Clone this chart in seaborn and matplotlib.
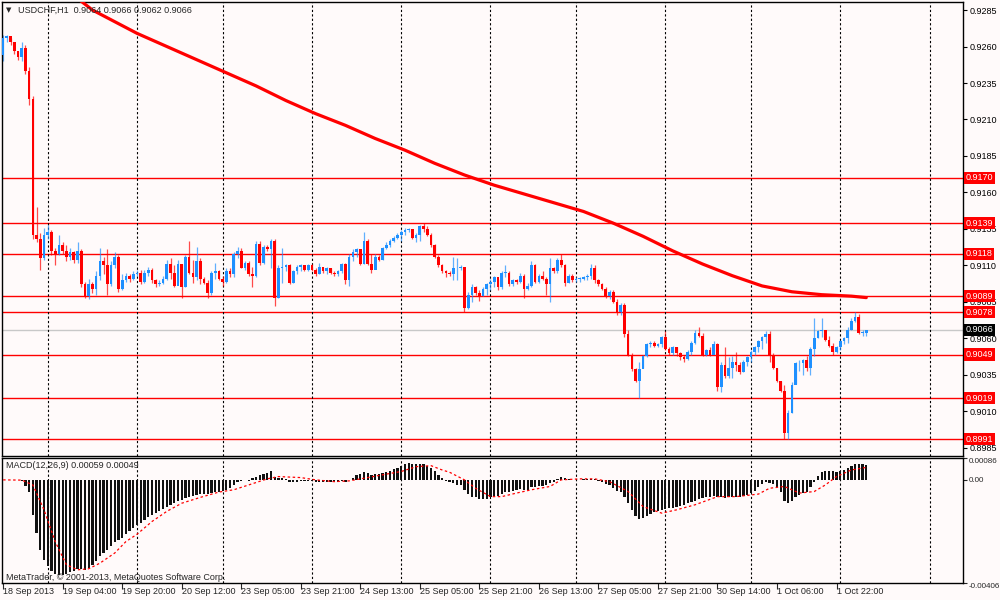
import pandas as pd
import matplotlib
matplotlib.use("Agg")
import matplotlib.pyplot as plt
import seaborn as sns

# USDCHF H1 candles (open of each bar = previous close)
first_open = 0.9254
close = [
    0.9266, 0.9267, 0.9263, 0.9257, 0.9253, 0.9259, 0.9243, 0.9224, 0.9131, 0.9128,
    0.9115, 0.9131, 0.9133, 0.9120, 0.9118, 0.9124, 0.9120, 0.9116, 0.9119, 0.9114,
    0.9120, 0.9097, 0.9089, 0.9097, 0.9094, 0.9103, 0.9113, 0.9110, 0.9097, 0.9110,
    0.9116, 0.9094, 0.9100, 0.9103, 0.9101, 0.9104, 0.9105, 0.9099, 0.9105, 0.9107,
    0.9100, 0.9097, 0.9098, 0.9101, 0.9111, 0.9105, 0.9096, 0.9111, 0.9095, 0.9116,
    0.9105, 0.9102, 0.9113, 0.9101, 0.9098, 0.9091, 0.9105, 0.9106, 0.9101, 0.9099,
    0.9106, 0.9104, 0.9118, 0.9120, 0.9108, 0.9112, 0.9104, 0.9103, 0.9125, 0.9112,
    0.9123, 0.9121, 0.9127, 0.9088, 0.9108, 0.9109, 0.9110, 0.9098, 0.9106, 0.9109,
    0.9110, 0.9107, 0.9110, 0.9107, 0.9104, 0.9109, 0.9106, 0.9108, 0.9105, 0.9104,
    0.9106, 0.9111, 0.9100, 0.9116, 0.9119, 0.9121, 0.9111, 0.9127, 0.9111, 0.9107,
    0.9116, 0.9114, 0.9122, 0.9124, 0.9127, 0.9129, 0.9131, 0.9133, 0.9134, 0.9135,
    0.9129, 0.9131, 0.9137, 0.9135, 0.9131, 0.9124, 0.9116, 0.9110, 0.9106, 0.9105,
    0.9104, 0.9108, 0.9108, 0.9109, 0.9081, 0.9090, 0.9095, 0.9091, 0.9089, 0.9094,
    0.9097, 0.9099, 0.9102, 0.9095, 0.9105, 0.9105, 0.9097, 0.9100, 0.9099, 0.9103,
    0.9094, 0.9096, 0.9110, 0.9099, 0.9103, 0.9101, 0.9097, 0.9108, 0.9106, 0.9114,
    0.9110, 0.9098, 0.9103, 0.9100, 0.9101, 0.9101, 0.9102, 0.9103, 0.9108, 0.9100,
    0.9097, 0.9094, 0.9089, 0.9092, 0.9085, 0.9078, 0.9083, 0.9063, 0.9049, 0.9039,
    0.9031, 0.9039, 0.9048, 0.9056, 0.9057, 0.9055, 0.9056, 0.9061, 0.9053, 0.9050,
    0.9054, 0.9050, 0.9047, 0.9046, 0.9051, 0.9057, 0.9064, 0.9062, 0.9049, 0.9052,
    0.9049, 0.9056, 0.9027, 0.9042, 0.9034, 0.9040, 0.9044, 0.9042, 0.9037, 0.9044,
    0.9047, 0.9051, 0.9054, 0.9058, 0.9061, 0.9063, 0.9048, 0.9040, 0.9031, 0.9024,
    0.8995, 0.9009, 0.9028, 0.9043, 0.9043, 0.9045, 0.9040, 0.9053, 0.9060, 0.9065,
    0.9066, 0.9059, 0.9055, 0.9051, 0.9054, 0.9058, 0.9060, 0.9066, 0.9072, 0.9075,
    0.9064, 0.9064, 0.9066,
]
high = [
    0.9268, 0.9268, 0.9266, 0.9263, 0.9257, 0.9263, 0.9261, 0.9246, 0.9226, 0.9150,
    0.9132, 0.9136, 0.9138, 0.9134, 0.9122, 0.9131, 0.9126, 0.9124, 0.9122, 0.9120,
    0.9126, 0.9121, 0.9099, 0.9101, 0.9099, 0.9106, 0.9122, 0.9116, 0.9121, 0.9113,
    0.9119, 0.9117, 0.9104, 0.9105, 0.9104, 0.9106, 0.9107, 0.9107, 0.9107, 0.9109,
    0.9108, 0.9101, 0.9100, 0.9103, 0.9114, 0.9115, 0.9110, 0.9114, 0.9111, 0.9117,
    0.9127, 0.9114, 0.9123, 0.9115, 0.9102, 0.9100, 0.9106, 0.9112, 0.9107, 0.9103,
    0.9108, 0.9108, 0.9119, 0.9123, 0.9122, 0.9113, 0.9113, 0.9109, 0.9127, 0.9127,
    0.9124, 0.9124, 0.9128, 0.9128, 0.9110, 0.9122, 0.9111, 0.9111, 0.9107, 0.9110,
    0.9111, 0.9110, 0.9111, 0.9111, 0.9108, 0.9112, 0.9109, 0.9109, 0.9108, 0.9106,
    0.9107, 0.9112, 0.9112, 0.9118, 0.9121, 0.9122, 0.9121, 0.9133, 0.9128, 0.9118,
    0.9118, 0.9117, 0.9123, 0.9126, 0.9128, 0.9130, 0.9132, 0.9134, 0.9136, 0.9136,
    0.9135, 0.9132, 0.9138, 0.9139, 0.9137, 0.9132, 0.9125, 0.9117, 0.9111, 0.9107,
    0.9106, 0.9116, 0.9115, 0.9110, 0.9109, 0.9092, 0.9097, 0.9096, 0.9093, 0.9095,
    0.9098, 0.9101, 0.9103, 0.9101, 0.9106, 0.9110, 0.9106, 0.9101, 0.9101, 0.9105,
    0.9104, 0.9098, 0.9113, 0.9111, 0.9104, 0.9106, 0.9102, 0.9115, 0.9109, 0.9115,
    0.9118, 0.9111, 0.9104, 0.9104, 0.9102, 0.9102, 0.9103, 0.9104, 0.9111, 0.9110,
    0.9101, 0.9098, 0.9095, 0.9093, 0.9093, 0.9087, 0.9084, 0.9084, 0.9066, 0.9050,
    0.9040, 0.9044, 0.9049, 0.9057, 0.9058, 0.9058, 0.9057, 0.9062, 0.9065, 0.9054,
    0.9055, 0.9054, 0.9051, 0.9049, 0.9052, 0.9058, 0.9066, 0.9068, 0.9064, 0.9053,
    0.9054, 0.9058, 0.9057, 0.9044, 0.9054, 0.9047, 0.9048, 0.9051, 0.9044, 0.9045,
    0.9048, 0.9052, 0.9055, 0.9059, 0.9062, 0.9065, 0.9065, 0.9050, 0.9040, 0.9031,
    0.9028, 0.9011, 0.9030, 0.9044, 0.9045, 0.9046, 0.9048, 0.9054, 0.9074, 0.9066,
    0.9074, 0.9066, 0.9062, 0.9057, 0.9055, 0.9059, 0.9061, 0.9068, 0.9074, 0.9078,
    0.9077, 0.9066, 0.9066,
]
low = [
    0.9250, 0.9263, 0.9261, 0.9255, 0.9251, 0.9250, 0.9241, 0.9220, 0.9128, 0.9126,
    0.9107, 0.9114, 0.9128, 0.9117, 0.9110, 0.9117, 0.9118, 0.9113, 0.9114, 0.9112,
    0.9112, 0.9095, 0.9088, 0.9087, 0.9091, 0.9090, 0.9100, 0.9104, 0.9090, 0.9096,
    0.9108, 0.9092, 0.9093, 0.9099, 0.9099, 0.9100, 0.9103, 0.9097, 0.9098, 0.9103,
    0.9098, 0.9095, 0.9096, 0.9097, 0.9100, 0.9101, 0.9095, 0.9099, 0.9088, 0.9095,
    0.9104, 0.9098, 0.9100, 0.9097, 0.9097, 0.9088, 0.9090, 0.9101, 0.9100, 0.9096,
    0.9098, 0.9102, 0.9102, 0.9115, 0.9108, 0.9107, 0.9103, 0.9095, 0.9102, 0.9110,
    0.9111, 0.9120, 0.9108, 0.9082, 0.9088, 0.9098, 0.9106, 0.9097, 0.9098, 0.9104,
    0.9106, 0.9106, 0.9106, 0.9106, 0.9103, 0.9104, 0.9105, 0.9104, 0.9104, 0.9103,
    0.9103, 0.9105, 0.9097, 0.9096, 0.9113, 0.9116, 0.9110, 0.9111, 0.9110, 0.9105,
    0.9108, 0.9113, 0.9114, 0.9121, 0.9123, 0.9126, 0.9128, 0.9127, 0.9131, 0.9133,
    0.9128, 0.9126, 0.9127, 0.9133, 0.9130, 0.9123, 0.9115, 0.9109, 0.9105, 0.9102,
    0.9103, 0.9100, 0.9100, 0.9107, 0.9078, 0.9080, 0.9085, 0.9090, 0.9086, 0.9089,
    0.9090, 0.9093, 0.9095, 0.9093, 0.9094, 0.9102, 0.9096, 0.9096, 0.9097, 0.9098,
    0.9088, 0.9093, 0.9095, 0.9098, 0.9098, 0.9100, 0.9090, 0.9085, 0.9105, 0.9105,
    0.9109, 0.9096, 0.9098, 0.9099, 0.9099, 0.9099, 0.9100, 0.9100, 0.9101, 0.9098,
    0.9096, 0.9093, 0.9088, 0.9087, 0.9084, 0.9076, 0.9076, 0.9061, 0.9048, 0.9038,
    0.9030, 0.9019, 0.9040, 0.9047, 0.9054, 0.9054, 0.9054, 0.9054, 0.9052, 0.9049,
    0.9049, 0.9048, 0.9045, 0.9044, 0.9045, 0.9049, 0.9056, 0.9061, 0.9048, 0.9048,
    0.9048, 0.9050, 0.9024, 0.9023, 0.9033, 0.9033, 0.9033, 0.9038, 0.9036, 0.9037,
    0.9041, 0.9044, 0.9049, 0.9051, 0.9053, 0.9057, 0.9044, 0.9039, 0.9030, 0.9023,
    0.8991, 0.8991, 0.9009, 0.9029, 0.9038, 0.9035, 0.9038, 0.9035, 0.9048, 0.9060,
    0.9061, 0.9058, 0.9054, 0.9049, 0.9050, 0.9052, 0.9056, 0.9057, 0.9066, 0.9071,
    0.9063, 0.9062, 0.9062,
]

# moving average (thick red line), sampled along the curve
ma_bar = [20, 24, 30, 36, 44, 52, 60, 68, 76, 84, 92, 100, 108, 116, 124,
          132, 140, 148, 156, 164, 172, 180, 188, 196, 204, 212, 220, 228, 232]
ma_value = [0.9293, 0.9285, 0.9277, 0.9269, 0.9260, 0.9251, 0.9242, 0.9233,
            0.9223, 0.9214, 0.9206, 0.9197, 0.9189, 0.9180, 0.9172, 0.9165,
            0.9159, 0.9153, 0.9147, 0.9139, 0.9130, 0.9120, 0.9111, 0.9103,
            0.9096, 0.9092, 0.9090, 0.9089, 0.9088]

# MACD(12,26,9) main values (histogram)
macd = [
    0.0, -0.00001, -0.00001, -0.00001, -0.00002, -0.00003, -0.00026, -0.00046, -0.00138, -0.00210,
    -0.00275, -0.00314, -0.00341, -0.00360, -0.00371, -0.00373, -0.00373, -0.00371, -0.00363, -0.00358,
    -0.00350, -0.00350, -0.00354, -0.00347, -0.00334, -0.00321, -0.00301, -0.00288, -0.00275, -0.00262,
    -0.00246, -0.00236, -0.00227, -0.00214, -0.00200, -0.00190, -0.00179, -0.00169, -0.00159, -0.00148,
    -0.00138, -0.00130, -0.00122, -0.00114, -0.00106, -0.00098, -0.00092, -0.00083, -0.00079, -0.00072,
    -0.00067, -0.00062, -0.00059, -0.00056, -0.00054, -0.00054, -0.00051, -0.00048, -0.00046, -0.00043,
    -0.00039, -0.00033, -0.00020, -0.00007, -0.00003, -0.00001, -0.00003, 0.00007, 0.00013, 0.00020,
    0.00022, 0.00026, 0.00035, 0.00013, 0.00009, 0.00007, 0.00003, -0.00007, -0.00007, -0.00007,
    -0.00005, -0.00005, -0.00004, -0.00004, -0.00007, -0.00008, -0.00008, -0.00007, -0.00008, -0.00008,
    -0.00007, -0.00004, -0.00007, 0.0, 0.00009, 0.00020, 0.00022, 0.00030, 0.00026, 0.00020,
    0.00022, 0.00022, 0.00026, 0.00030, 0.00035, 0.00042, 0.00048, 0.00056, 0.00062, 0.00066,
    0.00063, 0.00063, 0.00063, 0.00062, 0.00056, 0.00048, 0.00035, 0.00020, 0.00007, -0.00003,
    -0.00007, -0.00013, -0.00020, -0.00022, -0.00039, -0.00056, -0.00066, -0.00069, -0.00075, -0.00076,
    -0.00075, -0.00069, -0.00066, -0.00062, -0.00056, -0.00048, -0.00046, -0.00043, -0.00041, -0.00037,
    -0.00039, -0.00039, -0.00030, -0.00030, -0.00026, -0.00024, -0.00022, -0.00014, -0.00007, 0.00004,
    0.00013, 0.00007, 0.00004, 0.00001, 0.00001, 0.00001, 0.00003, 0.00003, 0.00004, 0.00003,
    -0.00003, -0.00007, -0.00017, -0.00022, -0.00033, -0.00043, -0.00046, -0.00066, -0.00092, -0.00118,
    -0.00144, -0.00155, -0.00151, -0.00144, -0.00135, -0.00127, -0.00122, -0.00118, -0.00115, -0.00111,
    -0.00109, -0.00105, -0.00101, -0.00098, -0.00093, -0.00088, -0.00083, -0.00075, -0.00072, -0.00069,
    -0.00067, -0.00062, -0.00067, -0.00069, -0.00072, -0.00069, -0.00067, -0.00066, -0.00066, -0.00063,
    -0.00059, -0.00052, -0.00043, -0.00030, -0.00017, -0.00007, -0.00011, -0.00017, -0.00030, -0.00048,
    -0.00083, -0.00092, -0.00085, -0.00066, -0.00059, -0.00052, -0.00048, -0.00030, -0.00007, 0.00017,
    0.00030, 0.00035, 0.00035, 0.00035, 0.00030, 0.00033, 0.00039, 0.00046, 0.00056, 0.00064,
    0.00064, 0.00064, 0.00059,
]
# signal line (red dotted), sampled
signal_bar = [0, 5, 8, 11, 14, 17, 20, 23, 26, 30, 33, 36, 40, 44, 48, 53, 58, 62,
              66, 71, 74, 80, 84, 89, 93, 98, 102, 107, 111, 115, 118, 120, 124, 127,
              131, 134, 138, 142, 147, 150, 155, 159, 163, 168, 172, 177, 181, 186,
              192, 197, 203, 206, 210, 214, 218, 221, 224, 228, 232]
signal_value = [0.0, -0.00001, -0.00020, -0.00118, -0.00243, -0.00334, -0.00354,
                -0.00350, -0.00328, -0.00288, -0.00243, -0.00214, -0.00164, -0.00124,
                -0.00092, -0.00069, -0.00048, -0.00039, -0.00020, 0.00004, 0.00013,
                0.00009, 0.0, -0.00007, -0.00004, 0.00009, 0.00020, 0.00033, 0.00052,
                0.00056, 0.00039, 0.00030, 0.0, -0.00033, -0.00066, -0.00066, -0.00052,
                -0.00039, -0.00026, 0.0, 0.00004, 0.00004, -0.00007, -0.00046, -0.00105,
                -0.00131, -0.00118, -0.00098, -0.00066, -0.00066, -0.00056, -0.00033,
                -0.00026, -0.00052, -0.00046, -0.00020, 0.00013, 0.00039, 0.00049]

levels = [0.9170, 0.9139, 0.9118, 0.9089, 0.9078, 0.9049, 0.9019, 0.8991]
bid = 0.9066
price_ticks = [0.9285, 0.9260, 0.9235, 0.9210, 0.9185, 0.9160, 0.9135,
               0.9110, 0.9085, 0.9060, 0.9035, 0.9010, 0.8985]
macd_ticks = [0.00086, 0.0, -0.00406]
macd_tick_labels = ["0.00086", "0.00", "-0.00406"]
time_bars = [0, 16, 32, 48, 64, 80, 96, 112, 128, 144, 160, 176, 192, 208, 224]
time_labels = ["18 Sep 2013", "19 Sep 04:00", "19 Sep 20:00", "20 Sep 12:00",
               "23 Sep 05:00", "23 Sep 21:00", "24 Sep 13:00", "25 Sep 05:00",
               "25 Sep 21:00", "26 Sep 13:00", "27 Sep 05:00", "27 Sep 21:00",
               "30 Sep 14:00", "1 Oct 06:00", "1 Oct 22:00"]
day_bars = [12, 36, 59, 83, 107, 131, 154, 178, 201, 225, 249]

BG = "#FFFAFA"
BULL = "#1E90FF"
BEAR = "#FF0000"
FS = 6.5

sns.set_style("white")
plt.rcParams["font.family"] = ["Liberation Sans", "DejaVu Sans"]
plt.rcParams["font.size"] = FS

df = pd.DataFrame({"close": close, "high": high, "low": low})
df["open"] = [first_open] + close[:-1]
df["bar"] = range(len(df))
df["color"] = [BULL if c >= o else BEAR for o, c in zip(df["open"], df["close"])]
body_low = df[["open", "close"]].min(axis=1)
body_h = (df["close"] - df["open"]).abs().clip(lower=0.00003)

fig = plt.figure(figsize=(10, 6), dpi=100, facecolor=BG)
ax = fig.add_axes([0.002, 0.24, 0.961, 0.7567], facecolor=BG)
ax2 = fig.add_axes([0.002, 0.02833, 0.961, 0.2083], facecolor=BG, sharex=ax)

xmin, xmax = -0.3, 258.0

# --- price panel ---
for lv in levels:
    ax.axhline(lv, color="#FF0000", lw=1.0, zorder=1)
ax.axhline(bid, color="#C8C8C8", lw=1.0, zorder=1)
for d in day_bars:
    ax.axvline(d, color="black", lw=0.8, ls=(0, (2, 2)), zorder=1)

ax.vlines(df["bar"], df["low"], df["high"], colors=df["color"], lw=0.9, alpha=0.7, zorder=2)
ax.bar(df["bar"], body_h, bottom=body_low, width=0.72, color=df["color"],
       linewidth=0, antialiased=False, zorder=3)

sns.lineplot(x=ma_bar, y=ma_value, ax=ax, color="#FF0000", lw=2.3, zorder=4)

ax.set_xlim(xmin, xmax)
ax.set_ylim(0.89795, 0.92905)
ax.yaxis.tick_right()
ax.set_yticks(price_ticks)
ax.set_yticklabels([f"{t:.4f}" for t in price_ticks])
ax.tick_params(axis="y", right=True, length=3, width=0.8, pad=1.5, labelsize=FS, colors="black")
ax.tick_params(axis="x", bottom=False, labelbottom=False)
ax.set_xlabel("")
ax.set_ylabel("")

ytr = ax.get_yaxis_transform()
for lv in levels:
    ax.text(1.0025, lv, f"{lv:.4f}", transform=ytr, ha="left", va="center", color="white",
            fontsize=FS, zorder=6, clip_on=False,
            bbox=dict(boxstyle="square,pad=0.18", fc="#FF0000", ec="none"))
ax.text(1.0025, bid, f"{bid:.4f}", transform=ytr, ha="left", va="center", color="white",
        fontsize=FS, zorder=6, clip_on=False,
        bbox=dict(boxstyle="square,pad=0.18", fc="black", ec="none"))

# --- MACD panel ---
for d in day_bars:
    ax2.axvline(d, color="black", lw=0.8, ls=(0, (2, 2)), zorder=1)
ax2.bar(df["bar"], macd, width=0.6, color="#111111", linewidth=0,
        antialiased=False, zorder=2)
sns.lineplot(x=signal_bar, y=signal_value, ax=ax2, color="#FF0000", lw=0.9,
             ls=(0, (2, 2)), zorder=3)
ax2.set_ylim(-0.00406, 0.00086)
ax2.yaxis.tick_right()
ax2.set_yticks(macd_ticks)
ax2.set_yticklabels(macd_tick_labels)
ax2.tick_params(axis="y", right=True, length=3, width=0.8, pad=1.0, labelsize=5.8)
labs = ax2.get_yticklabels()
labs[0].set_va("top")
labs[-1].set_va("top")
ax2.set_xticks(time_bars)
ax2.set_xticklabels(time_labels)
ax2.tick_params(axis="x", bottom=True, length=4, width=0.8, pad=-1, labelsize=FS)
for lab in ax2.get_xticklabels():
    lab.set_ha("left")
ax2.set_xlim(xmin, xmax)
ax2.set_xlabel("")
ax2.set_ylabel("")

for a in (ax, ax2):
    for s in a.spines.values():
        s.set_color("black")
        s.set_linewidth(1.0)

fig.text(0.006, 1 - 10 / 600, "\u25bc", fontsize=5, va="center", ha="left",
         family=["DejaVu Sans"])
fig.text(0.018, 1 - 10 / 600, "USDCHF,H1  0.9064 0.9066 0.9062 0.9066",
         fontsize=FS, va="center", ha="left")
fig.text(0.006, 1 - 466 / 600, "MACD(12,26,9) 0.00059 0.00049",
         fontsize=FS, va="center", ha="left")
fig.text(0.006, 1 - 577 / 600, "MetaTrader, \u00a9 2001-2013, MetaQuotes Software Corp.",
         fontsize=FS, va="center", ha="left")

fig.savefig("out.png", dpi=100, facecolor=BG)
